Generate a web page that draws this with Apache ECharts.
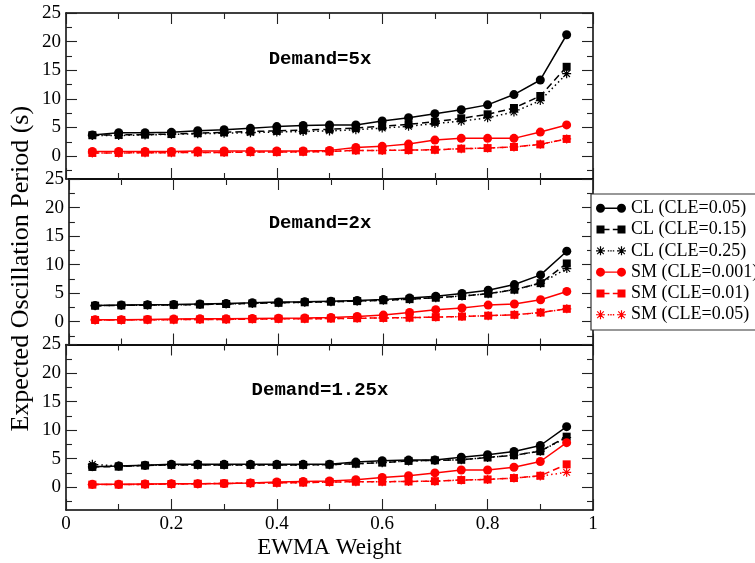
<!DOCTYPE html>
<html>
<head>
<meta charset="utf-8">
<script src="https://cdn.jsdelivr.net/npm/echarts@6/dist/echarts.min.js"></script>
<style>
html, body { margin: 0; padding: 0; background: #fff; }
#chart { width: 755px; height: 563px; }
</style>
</head>
<body>
<div id="chart"></div>
<script>
// EWMA weights sampled on the x axis
const weights = [0.05, 0.1, 0.15, 0.2, 0.25, 0.3, 0.35, 0.4, 0.45, 0.5,
                 0.55, 0.6, 0.65, 0.7, 0.75, 0.8, 0.85, 0.9, 0.95];

const seriesNames = ['CL (CLE=0.05)', 'CL (CLE=0.15)', 'CL (CLE=0.25)',
                     'SM (CLE=0.001)', 'SM (CLE=0.01)', 'SM (CLE=0.05)'];

const panelTitles = ['Demand=5x', 'Demand=2x', 'Demand=1.25x'];

const xTickLabels = [0, 0.2, 0.4, 0.6, 0.8, 1];
const yTickLabels = [0, 5, 10, 15, 20, 25];
const yMinorTicks = [-2.5, 2.5, 7.5, 12.5, 17.5, 22.5];

// Demand = 5x
const cl005_5x = [3.7, 4.1, 4.1, 4.15, 4.45, 4.6, 4.85, 5.15, 5.35, 5.45, 5.45, 6.15, 6.7, 7.4, 8.1, 8.95, 10.75, 13.3, 21.2];
const cl015_5x = [3.65, 3.7, 3.75, 3.85, 4.0, 4.15, 4.3, 4.4, 4.55, 4.7, 4.9, 5.2, 5.55, 6.0, 6.6, 7.3, 8.4, 10.5, 15.6];
const cl025_5x = [3.6, 3.6, 3.7, 3.8, 3.9, 4.0, 4.1, 4.2, 4.3, 4.4, 4.6, 4.9, 5.2, 5.7, 6.1, 6.7, 7.7, 9.7, 14.4];
const sm0001_5x = [0.8, 0.8, 0.8, 0.8, 0.9, 0.9, 0.9, 0.9, 0.9, 1.0, 1.5, 1.7, 2.1, 2.8, 3.1, 3.1, 3.1, 4.2, 5.45];
const sm001_5x = [0.55, 0.55, 0.6, 0.6, 0.65, 0.65, 0.7, 0.7, 0.75, 0.8, 1.0, 1.0, 1.05, 1.1, 1.3, 1.4, 1.6, 2.05, 3.0];
const sm005_5x = [0.55, 0.55, 0.6, 0.6, 0.65, 0.65, 0.7, 0.7, 0.75, 0.8, 1.0, 1.0, 1.05, 1.1, 1.3, 1.4, 1.6, 2.05, 3.0];

// Demand = 2x
const cl005_2x = [2.85, 2.9, 2.95, 3.0, 3.1, 3.2, 3.3, 3.45, 3.5, 3.6, 3.7, 3.9, 4.15, 4.45, 4.95, 5.5, 6.5, 8.2, 12.35];
const cl015_2x = [2.8, 2.85, 2.9, 2.95, 3.0, 3.1, 3.2, 3.3, 3.4, 3.5, 3.6, 3.75, 3.95, 4.2, 4.5, 4.9, 5.6, 6.75, 10.2];
const cl025_2x = [2.8, 2.85, 2.9, 2.95, 3.0, 3.1, 3.2, 3.3, 3.4, 3.5, 3.6, 3.75, 3.95, 4.2, 4.5, 4.9, 5.6, 6.75, 9.3];
const sm0001_2x = [0.35, 0.35, 0.4, 0.45, 0.5, 0.5, 0.55, 0.6, 0.65, 0.75, 0.9, 1.15, 1.6, 2.1, 2.4, 2.9, 3.1, 3.85, 5.3];
const sm001_2x = [0.3, 0.3, 0.35, 0.35, 0.4, 0.4, 0.45, 0.5, 0.5, 0.55, 0.6, 0.65, 0.7, 0.8, 0.9, 1.05, 1.2, 1.6, 2.25];
const sm005_2x = [0.3, 0.3, 0.35, 0.35, 0.4, 0.4, 0.45, 0.5, 0.5, 0.55, 0.6, 0.65, 0.7, 0.8, 0.9, 1.05, 1.2, 1.6, 2.25];

// Demand = 1.25x
const cl005_125x = [3.6, 3.7, 3.85, 4.0, 4.0, 4.0, 4.0, 4.0, 4.0, 4.0, 4.4, 4.65, 4.75, 4.75, 5.25, 5.7, 6.25, 7.3, 10.6];
const cl015_125x = [3.55, 3.6, 3.8, 3.9, 3.9, 3.9, 3.9, 3.9, 3.9, 3.95, 4.1, 4.3, 4.6, 4.7, 4.8, 5.2, 5.6, 6.3, 8.85];
const cl025_125x = [4.0, 3.7, 3.8, 3.9, 3.9, 3.9, 3.9, 3.9, 3.9, 3.95, 4.1, 4.3, 4.6, 4.7, 4.8, 5.2, 5.6, 6.3, 8.7];
const sm0001_125x = [0.5, 0.5, 0.55, 0.6, 0.6, 0.65, 0.75, 0.9, 1.0, 1.1, 1.3, 1.7, 2.0, 2.5, 3.0, 3.0, 3.5, 4.5, 7.8];
const sm001_125x = [0.45, 0.45, 0.5, 0.55, 0.6, 0.65, 0.7, 0.75, 0.8, 0.9, 0.95, 0.95, 1.0, 1.05, 1.25, 1.35, 1.6, 2.0, 4.0];
const sm005_125x = [0.45, 0.45, 0.5, 0.55, 0.6, 0.65, 0.7, 0.75, 0.8, 0.9, 0.95, 0.95, 1.0, 1.05, 1.25, 1.35, 1.6, 1.95, 2.6];

const panels = [
  [cl005_5x, cl015_5x, cl025_5x, sm0001_5x, sm001_5x, sm005_5x],
  [cl005_2x, cl015_2x, cl025_2x, sm0001_2x, sm001_2x, sm005_2x],
  [cl005_125x, cl015_125x, cl025_125x, sm0001_125x, sm001_125x, sm005_125x]
];

// ---- marker shapes ----
function starPath(dx) {
  const p = (pts) => 'M' + pts.map(q => (q[0] + dx) + ',' + q[1]).join('L') + 'Z';
  return p([[0, 39], [90, 39], [90, 51], [0, 51]]) +
         p([[39, 0], [51, 0], [51, 90], [39, 90]]) +
         p([[8, 16], [16, 8], [82, 74], [74, 82]]) +
         p([[74, 8], [82, 16], [16, 82], [8, 74]]);
}
const starSymbol = 'path://' + starPath(0);

const legendIcons = [
  'path://M0,45A45,45 0 1,1 90,45A45,45 0 1,1 0,45Z M210,45A45,45 0 1,1 300,45A45,45 0 1,1 210,45Z M45,38L255,38L255,52L45,52Z',
  'path://M5,5L85,5L85,85L5,85Z M215,5L295,5L295,85L215,85Z M85,38L135,38L135,52L85,52Z M168,38L215,38L215,52L168,52Z M0,0L0.1,0L0.1,0.1Z M299.9,89.9L300,89.9L300,90Z',
  'path://' + starPath(0) + starPath(210) + 'M118,38L132,38L132,52L118,52Z M143,38L157,38L157,52L143,52Z M168,38L182,38L182,52L168,52Z'
];

const BLACK = '#000000';
const RED = '#ff0000';
const styles = [
  { color: BLACK, symbol: 'circle', size: 9, dash: 'solid', icon: legendIcons[0] },
  { color: BLACK, symbol: 'rect', size: 8, dash: [7, 4], icon: legendIcons[1] },
  { color: BLACK, symbol: starSymbol, size: 9, dash: [1.5, 3], icon: legendIcons[2] },
  { color: RED, symbol: 'circle', size: 9, dash: 'solid', icon: legendIcons[0] },
  { color: RED, symbol: 'rect', size: 8, dash: [7, 4], icon: legendIcons[1] },
  { color: RED, symbol: starSymbol, size: 9, dash: [1.5, 3], icon: legendIcons[2] }
];

const SERIF = '"Liberation Serif", "Times New Roman", serif';
const MONO = '"Liberation Mono", "DejaVu Sans Mono", monospace';

// ---- layout of the three stacked panels ----
const gridTops = [13, 179, 344.5];
const gridHeights = [166, 165.5, 165.5];
const grids = gridTops.map((t, i) => ({ left: 66, right: 162, top: t, height: gridHeights[i], containLabel: false }));

const frameLine = { show: true, onZero: false, lineStyle: { color: '#000', width: 1.5 } };
const tickLine = { color: '#222', width: 1.1 };

const xAxes = [];
const yAxes = [];
for (let g = 0; g < 3; g++) {
  [false, true].forEach(isTop => {
    const labelled = !isTop && g === 2;
    xAxes.push({
      type: 'value', gridIndex: g, min: 0, max: 1, interval: 0.2,
      position: isTop ? 'top' : 'bottom',
      axisLine: frameLine,
      axisTick: { show: true, inside: true, length: 11, lineStyle: tickLine },
      minorTick: { show: true, splitNumber: 2, length: 6, lineStyle: tickLine },
      splitLine: { show: false }, minorSplitLine: { show: false },
      axisLabel: {
        show: labelled, margin: 5, color: '#000', fontFamily: SERIF, fontSize: 19,
        formatter: v => (xTickLabels.includes(Math.round(v * 10) / 10) ? String(Math.round(v * 10) / 10) : '')
      },
      name: labelled ? 'EWMA Weight' : '',
      nameLocation: 'middle', nameGap: 26,
      nameTextStyle: { color: '#000', fontFamily: SERIF, fontSize: 23 }
    });
  });
  const base = { type: 'value', gridIndex: g, min: -4, max: 25, splitLine: { show: false } };
  ['left', 'right'].forEach(side => {
    yAxes.push(Object.assign({}, base, {
      position: side,
      axisLine: frameLine,
      axisTick: { show: true, inside: true, length: 11, customValues: yTickLabels, lineStyle: tickLine },
      axisLabel: {
        show: side === 'left', customValues: yTickLabels, margin: 5,
        color: '#000', fontFamily: SERIF, fontSize: 19
      },
      name: (side === 'left' && g === 1) ? 'Expected Oscillation Period (s)' : '',
      nameLocation: 'middle', nameGap: 29, nameRotate: 90,
      nameTextStyle: { color: '#000', fontFamily: SERIF, fontSize: 26, padding: [0, 14, 0, 0] }
    }));
    yAxes.push(Object.assign({}, base, {
      position: side,
      axisLine: { show: false, onZero: false },
      axisTick: { show: true, inside: true, length: 6, customValues: yMinorTicks, lineStyle: tickLine },
      axisLabel: { show: false }
    }));
  });
}

const series = [];
panels.forEach((values, g) => {
  values.forEach((vals, k) => {
    const s = styles[k];
    series.push({
      type: 'line',
      name: seriesNames[k],
      xAxisIndex: 2 * g,
      yAxisIndex: 4 * g,
      data: weights.map((w, i) => [w, vals[i]]),
      symbol: s.symbol,
      symbolSize: s.size,
      showSymbol: true,
      lineStyle: { color: s.color, width: 1.5, type: s.dash },
      itemStyle: { color: s.color, borderWidth: 0 },
      emphasis: { disabled: true },
      animation: false,
      z: 2 + k
    });
  });
});

const titleY = [59, 223, 390];
const graphic = panelTitles.map((t, i) => ({
  type: 'text', x: 320, y: titleY[i], z: 100,
  style: {
    text: t, fill: '#000', font: 'bold 19px ' + MONO,
    align: 'center', verticalAlign: 'middle'
  }
}));

const chart = echarts.init(document.getElementById('chart'), null, { renderer: 'canvas' });
chart.setOption({
  backgroundColor: '#fff',
  animation: false,
  textStyle: { fontFamily: SERIF },
  grid: grids,
  xAxis: xAxes,
  yAxis: yAxes,
  series: series,
  graphic: graphic,
  legend: {
    orient: 'vertical', left: 591, top: 194,
    itemWidth: 30, itemHeight: 9, itemGap: 2.8,
    padding: [5, 12, 6, 5],
    borderColor: '#333', borderWidth: 1.2, backgroundColor: '#fff',
    selectedMode: false,
    itemStyle: { borderWidth: 0 },
    textStyle: { color: '#000', fontFamily: SERIF, fontSize: 18, lineHeight: 18.5 },
    data: seriesNames.map((n, i) => ({ name: n, icon: styles[i].icon }))
  }
});
</script>
</body>
</html>
